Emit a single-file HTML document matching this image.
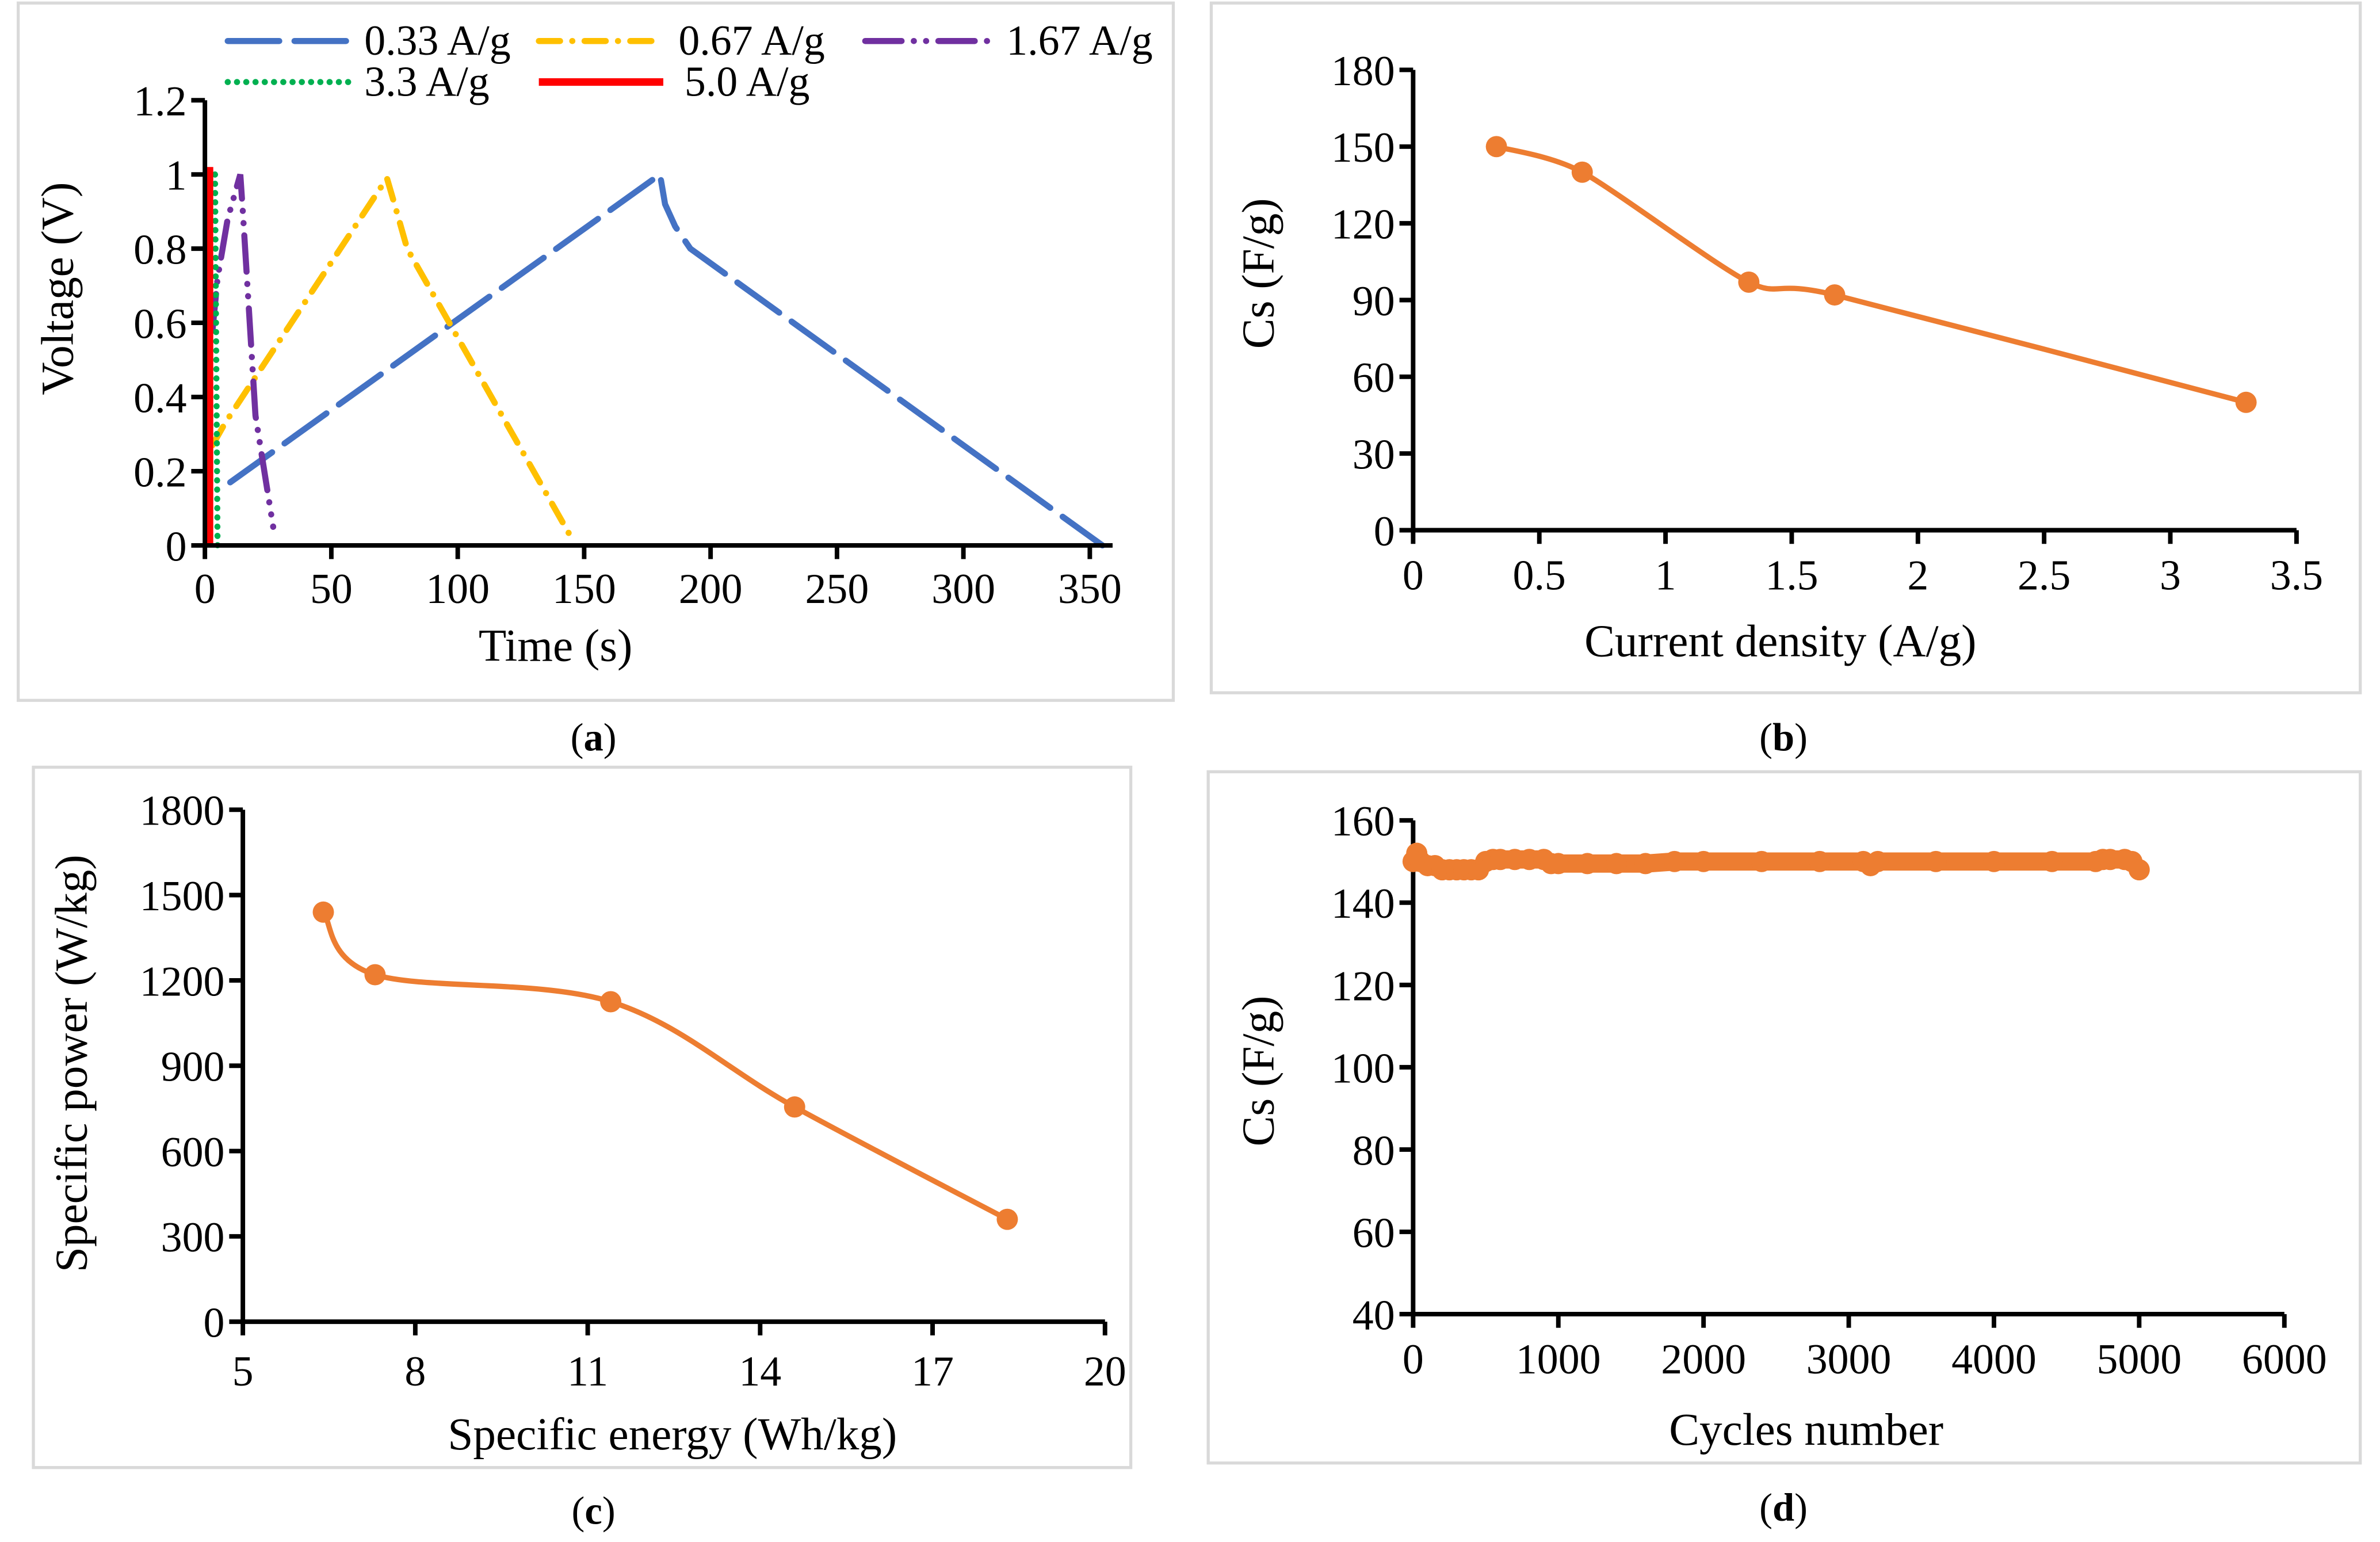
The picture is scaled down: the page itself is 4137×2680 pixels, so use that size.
<!DOCTYPE html>
<html><head><meta charset="utf-8">
<style>
html,body{margin:0;padding:0;background:#fff;}
svg{display:block;font-family:"Liberation Serif",serif;}
</style></head>
<body>
<svg id="fig" xmlns="http://www.w3.org/2000/svg" width="4137" height="2680" viewBox="0 0 1568 1015" preserveAspectRatio="none"></svg>
<script>
// ---- Panel a data ----
const aTime033 = [10,180,182,186,192,355];
const aVolt033 = [0.17,1.0,0.92,0.86,0.8,0.0];
const aTime067 = [3,8,72,75,80,145];
const aVolt067 = [0.27,0.33,0.99,0.92,0.8,0.02];
const aTime167 = [3,5,9,14,15,20,27];
const aVolt167 = [0.58,0.72,0.88,1.0,0.9,0.35,0.05];
const aTime33 = [4,4.5,5];
const aVolt33 = [1.0,0.5,0.0];
const aTime50 = [1.5,1.5];
const aVolt50 = [0.0,1.02];
const aXTicks = [0,50,100,150,200,250,300,350];
const aYTicks = ["0","0.2","0.4","0.6","0.8","1","1.2"];
// ---- Panel b data ----
const bCurrent = [0.33,0.67,1.33,1.67,3.3];
const bCs = [150,140,97,92,50];
const bXTicks = ["0","0.5","1","1.5","2","2.5","3","3.5"];
const bYTicks = [0,30,60,90,120,150,180];
// ---- Panel c data ----
const cEnergy = [6.4,7.3,11.4,14.6,18.3];
const cPower = [1440,1220,1125,755,360];
const cXTicks = [5,8,11,14,17,20];
const cYTicks = [0,300,600,900,1200,1500,1800];
// ---- Panel d data ----
const dCycles = [0,25,50,100,150,200,250,300,350,400,450,500,550,600,700,800,900,950,1000,1200,1400,1600,1800,2000,2400,2800,3100,3150,3200,3600,4000,4400,4700,4750,4800,4900,4950,5000];
const dCs = [150,152,150,149,149,148,148,148,148,148,148,150,150.5,150.5,150.5,150.5,150.5,149.5,149.5,149.5,149.5,149.5,150,150,150,150,150,149,150,150,150,150,150,150.5,150.5,150.5,150,148];
const dXTicks = [0,1000,2000,3000,4000,5000,6000];
const dYTicks = [40,60,80,100,120,140,160];

const NS="http://www.w3.org/2000/svg";
const svg=document.getElementById('fig');
const TS=28, TT=30;
function mk(tag,attrs,parent){const e=document.createElementNS(NS,tag);for(const k in attrs)e.setAttribute(k,attrs[k]);(parent||svg).appendChild(e);return e;}
function txt(s,x,y,size,anchor,parent,extra){const t=mk('text',Object.assign({x:x,y:y,'font-size':size,'text-anchor':anchor||'middle',fill:'#000'},extra||{}),parent);t.textContent=s;return t;}
function smooth(pts,k){k=k||8;let d='M'+pts[0][0]+','+pts[0][1];for(let i=0;i<pts.length-1;i++){const p0=pts[i-1]||pts[i],p1=pts[i],p2=pts[i+1],p3=pts[i+2]||p2;const c1=[p1[0]+(p2[0]-p0[0])/k,p1[1]+(p2[1]-p0[1])/k],c2=[p2[0]-(p3[0]-p1[0])/k,p2[1]-(p3[1]-p1[1])/k];d+=' C'+c1+' '+c2+' '+p2;}return d;}

function axes(g,x0,x1,y0,y1,xt,yt,sx,sy,lblDy){
  const ax=mk('path',{d:`M${x0},${y1} V${y0} H${x1}`,stroke:'#000','stroke-width':3,fill:'none'},g);
  
  xt.forEach(v=>{const x=sx(parseFloat(v));mk('line',{x1:x,x2:x,y1:y0,y2:y0+9,stroke:'#000','stroke-width':3},g);
    const t=txt(String(v),x,y0+lblDy,TS,'middle',g);});
  yt.forEach(v=>{const y=sy(parseFloat(v));mk('line',{x1:x0-9,x2:x0,y1:y,y2:y,stroke:'#000','stroke-width':3},g);
    const t=txt(String(v),x0-12,y+10,TS,'end',g);});
}
function box(x,y,w,h,name){const r=mk('rect',{x:x,y:y,width:w,height:h,fill:'#fff',stroke:'#d9d9d9','stroke-width':2});}
function caption(l,x,y){const t=mk('text',{x:x,y:y,'font-size':26,'text-anchor':'middle'});t.innerHTML='(<tspan font-weight="bold">'+l+'</tspan>)';}

// ===== Panel a =====
box(12,2,761,459,'panel-a-frame');
const ga=mk('g',{});
const axX=v=>135+v*(583/350), axY=v=>359-v*(293/1.2);
const aSeries=[
 [aTime033,aVolt033,'#4472C4','34 10','round',4,'series-0.33'],
 [aTime067,aVolt067,'#FFC000','14 8 0.1 8','round',4,'series-0.67'],
 [aTime167,aVolt167,'#7030A0','24 8 0.1 8 0.1 8','round',4,'series-1.67'],
 [aTime33,aVolt33,'#00B050','0.1 6','round',4,'series-3.3'],
 [aTime50,aVolt50,'#FF0000','','butt',6,'series-5.0']];
aSeries.forEach(s=>{const p=mk('path',{d:'M'+s[0].map((t,i)=>axX(t)+','+axY(s[1][i])).join(' L'),stroke:s[2],'stroke-width':s[5],fill:'none','stroke-dasharray':s[3],'stroke-linecap':s[4]},ga);
 });
axes(ga,135,733,359,66,aXTicks,aYTicks,axX,axY,38);
let t=txt('Time (s)',366,435,TT,'middle',ga);
t=txt('Voltage (V)',0,0,TT,'middle',ga,{transform:'translate(48,190) rotate(-90)'});
const leg=[[150,27,'#4472C4','34 10','round','0.33 A/g',240],[355,27,'#FFC000','14 8 0.1 8','round','0.67 A/g',447],[570,27,'#7030A0','24 8 0.1 8 0.1 8','round','1.67 A/g',663],[150,54,'#00B050','0.1 6','round','3.3 A/g',240],[355,54,'#FF0000','','butt','5.0 A/g',451]];
leg.forEach(l=>{const g=mk('g',{},ga);
 mk('line',{x1:l[0],x2:l[0]+82,y1:l[1],y2:l[1],stroke:l[2],'stroke-width':l[2]=='#FF0000'?5:4,'stroke-dasharray':l[3],'stroke-linecap':l[4]},g);
 txt(l[5],l[6],l[1]+9,TS,'start',g);});
caption('a',391,494);

// ===== Panel b =====
box(798,2,757,454,'panel-b-frame');
const gb=mk('g',{});
const bxX=v=>931+v*(582/3.5), bxY=v=>349-v*(303/180);
axes(gb,931,1513,349,46,bXTicks,bYTicks,bxX,bxY,39);
const bp=bCurrent.map((v,i)=>[bxX(v),bxY(bCs[i])]);
let p=mk('path',{d:smooth(bp,8),stroke:'#ED7D31','stroke-width':3.5,fill:'none'},gb);
bp.forEach(q=>{const c=mk('circle',{cx:q[0],cy:q[1],r:7,fill:'#ED7D31'},gb);});
t=txt('Current density (A/g)',1173,432,TT,'middle',gb);
t=txt('Cs (F/g)',0,0,TT,'middle',gb,{transform:'translate(839,180) rotate(-90)'});
caption('b',1175,494);

// ===== Panel c =====
box(22,505,723,461,'panel-c-frame');
const gc=mk('g',{});
const cxX=v=>160+(v-5)*(568/15), cxY=v=>870-v*(337/1800);
axes(gc,160,728,870,533,cXTicks,cYTicks,cxX,cxY,42);
const cp=cEnergy.map((v,i)=>[cxX(v),cxY(cPower[i])]);
p=mk('path',{d:smooth(cp,6),stroke:'#ED7D31','stroke-width':3.5,fill:'none'},gc);
cp.forEach(q=>{const c=mk('circle',{cx:q[0],cy:q[1],r:7,fill:'#ED7D31'},gc);});
t=txt('Specific energy (Wh/kg)',443,954,TT,'middle',gc);
t=txt('Specific power (W/kg)',0,0,TT,'middle',gc,{transform:'translate(57,700) rotate(-90)'});
caption('c',391,1003);

// ===== Panel d =====
box(796,508,759,455,'panel-d-frame');
const gd=mk('g',{});
const dxX=v=>931+v*(574/6000), dxY=v=>865-(v-40)*(325/120);
axes(gd,931,1505,865,540,dXTicks,dYTicks,dxX,dxY,39);
const dp=dCycles.map((v,i)=>[dxX(v),dxY(dCs[i])]);
p=mk('path',{d:'M'+dp.map(q=>q.join(',')).join(' L'),stroke:'#ED7D31','stroke-width':12,fill:'none','stroke-linejoin':'round','stroke-linecap':'round'},gd);
dp.forEach(q=>{const c=mk('circle',{cx:q[0],cy:q[1],r:7,fill:'#ED7D31'},gd);});
t=txt('Cycles number',1190,951,TT,'middle',gd);
t=txt('Cs (F/g)',0,0,TT,'middle',gd,{transform:'translate(839,705) rotate(-90)'});
caption('d',1175,1001);
</script>
</body></html>
